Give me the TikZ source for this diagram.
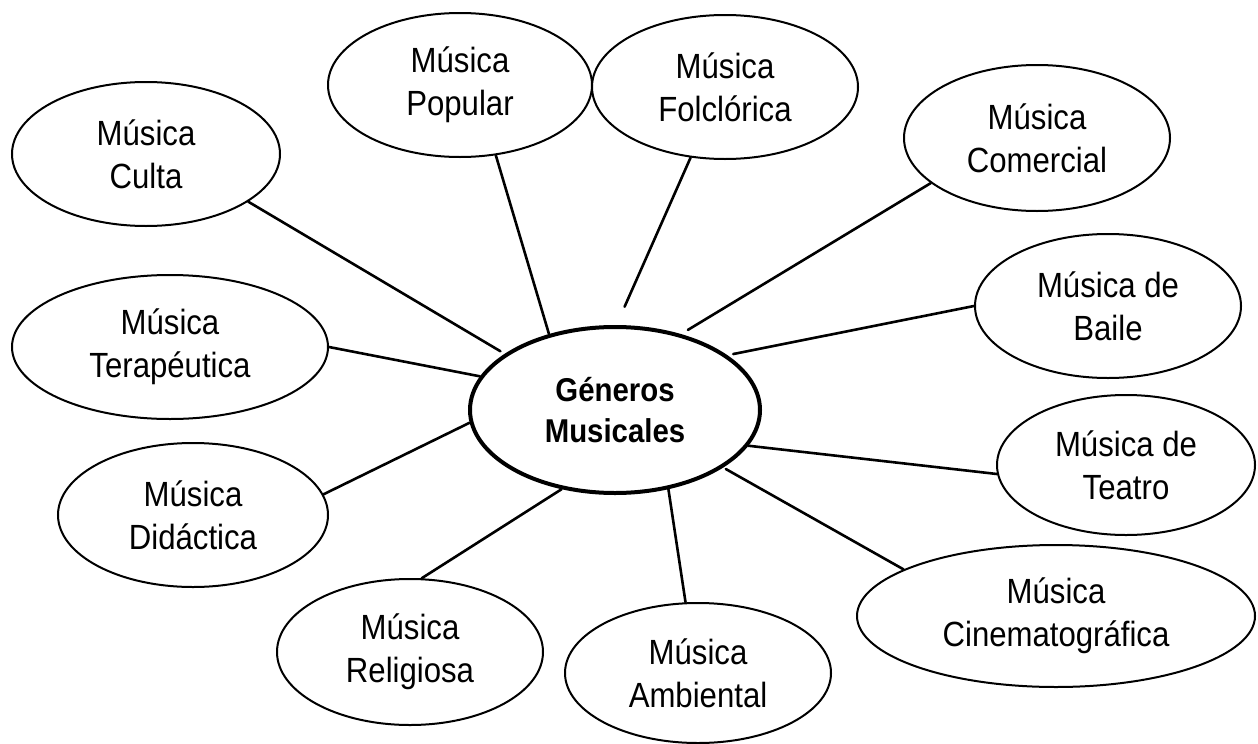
\documentclass[tikz,border=0pt]{standalone}
\usepackage{fontspec}
\setmainfont{Liberation Sans}[FakeStretch=0.89]
\usetikzlibrary{shapes.geometric}
\begin{document}
\begin{tikzpicture}[x=1pt,y=-1pt,
  bub/.style={ellipse,draw=black,line width=2pt,inner sep=0pt,align=center,
    font=\fontsize{35}{43}\selectfont},
  hub/.style={bub,line width=4pt,font=\fontsize{33}{41}\selectfont\bfseries},
  link/.style={line width=2.6pt,line cap=round}]
\fill[white] (0,0) rectangle (1258,744);
\useasboundingbox (0,0) rectangle (1258,744);
% nodes
\node[hub,minimum width=290pt,minimum height=166pt] (gen) at (615,410) {Géneros\\Musicales};
\node[bub,minimum width=268pt,minimum height=144pt] (culta) at (146,154) {Música\\Culta};
\node[bub,minimum width=264pt,minimum height=144pt] (popular) at (460,85) {Música\\Popular};
\node[bub,minimum width=266pt,minimum height=144pt] (folc) at (725,87) {Música\\Folclórica};
\node[bub,minimum width=266pt,minimum height=146pt] (comer) at (1037,138) {Música\\Comercial};
\node[bub,minimum width=266pt,minimum height=144pt] (baile) at (1108,306) {Música de\\Baile};
\node[bub,minimum width=258pt,minimum height=140pt] (teatro) at (1126,465) {Música de\\Teatro};
\node[bub,minimum width=398pt,minimum height=142pt] (cine) at (1056,616) {Música\\Cinematográfica};
\node[bub,minimum width=266pt,minimum height=140pt] (amb) at (698,673) {Música\\Ambiental};
\node[bub,minimum width=266pt,minimum height=146pt] (relig) at (410,652) {Música\\Religiosa};
\node[bub,minimum width=270pt,minimum height=144pt] (didac) at (193,515) {Música\\Didáctica};
\node[bub,minimum width=316pt,minimum height=144pt] (terap) at (170,347) {Música\\Terapéutica};
% connectors
\draw[link,shorten >=5pt] (culta.-25) -- (gen.153);
\draw[link] (popular.-63) -- (gen.131);
\draw[link,shorten >=20pt] (folc.-116) -- (gen.89);
\draw[link,shorten >=8pt] (comer.-157) -- (gen.49);
\draw[link,shorten >=6pt] (baile.180) -- (gen.26);
\draw[link] (teatro.-176) -- (gen.-15);
\draw[link,shorten >=3pt] (cine.163) -- (gen.-28);
\draw[link] (amb.100) -- (gen.-56);
\draw[link] (relig.81) -- (gen.-124);
\draw[link] (didac.9) -- (gen.185);
\draw[link] (terap.0) -- (gen.166);
\end{tikzpicture}
\end{document}
